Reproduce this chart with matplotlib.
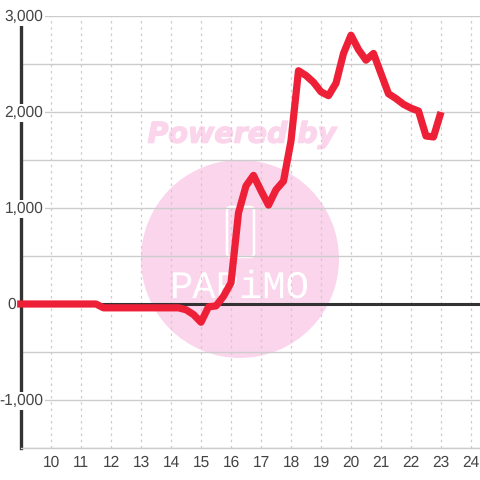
import matplotlib
matplotlib.use("Agg")
import matplotlib.pyplot as plt
import matplotlib.patheffects as pe
from matplotlib.patches import Circle, FancyBboxPatch

# ---------------------------------------
# Data
# ---------------------------------------
hours = [8.87, 9.5, 10, 10.5, 11, 11.5, 11.75, 12, 12.5, 13, 13.5, 14, 14.25, 14.5, 14.75, 15,
         15.25, 15.5, 15.75, 16, 16.25, 16.5, 16.75, 17, 17.25, 17.5, 17.75, 18, 18.25,
         18.5, 18.75, 19, 19.25, 19.5, 19.75, 20, 20.25, 20.5, 20.75, 21, 21.25, 21.5,
         21.75, 22, 22.25, 22.5, 22.75, 23]
values = [0, 0, 0, 0, 0, 0, -40, -40, -40, -40, -40, -40, -40, -60, -110, -190,
          -30, -20, 80, 220, 950, 1230, 1340, 1180, 1030, 1190, 1280, 1700, 2430,
          2380, 2310, 2210, 2170, 2300, 2610, 2800, 2650, 2540, 2610, 2400, 2190, 2140,
          2080, 2040, 2010, 1750, 1740, 2000]

x_ticks = list(range(10, 25))
y_ticks = [-1500, -1000, -500, 0, 500, 1000, 1500, 2000, 2500, 3000]
y_labels = ["3,000", "2,000", "1,000", "-1,000"]
y_label_values = [3000, 2000, 1000, -1000]

# ---------------------------------------
# Figure setup
# ---------------------------------------
plt.rcParams["font.family"] = "Liberation Sans"
plt.rcParams["text.hinting"] = "none"
fig = plt.figure(figsize=(4.8, 4.8), dpi=100, facecolor="white")
ax = fig.add_axes([21 / 480, 32 / 480, 459 / 480, 432 / 480])
ax.set_xlim(9, 24.3)
ax.set_ylim(-1500, 3000)
ax.patch.set_alpha(0)
ax.set_zorder(1)

# Watermark sits under the axes
fig.patches.append(Circle((240 / 480, 1 - 259 / 480), 99 / 480, transform=fig.transFigure,
                          facecolor="#FBD5EC", edgecolor="none", figure=fig, zorder=-3))
fig.patches.append(FancyBboxPatch((227 / 480, 1 - 257 / 480), 27 / 480, 50 / 480,
                                  boxstyle="round,pad=0,rounding_size=0.008",
                                  transform=fig.transFigure, facecolor="none",
                                  edgecolor="white", linewidth=1.8, figure=fig, zorder=-2))
fig.text(242 / 480, 1 - 135 / 480, "Powered by", family="DejaVu Sans", fontsize=20.5,
         fontweight="bold", fontstyle="italic", color="#FBD5EC", ha="center", va="center",
         zorder=-2, path_effects=[pe.withStroke(linewidth=1.0, foreground="#FBD5EC")])
fig.text(240 / 480, 1 - 288 / 480, "PAPiMO", family="Liberation Mono", fontsize=28,
         color="white", ha="center", va="center", zorder=-2)

# Grid
ax.set_xticks(x_ticks)
ax.set_yticks(y_ticks)
ax.set_yticklabels([])
ax.grid(axis="y", color="#CCCCCC", linewidth=1.0)
ax.grid(axis="x", color="#CCCCCC", linewidth=0.9, linestyle=(0, (2, 3)))
ax.set_axisbelow(True)
ax.tick_params(axis="both", length=0)
ax.tick_params(axis="x", labelsize=11.2, labelcolor="#444444", pad=5)
ax.tick_params(axis="y", pad=0)

for side in ["top", "right"]:
    ax.spines[side].set_visible(False)
ax.spines["bottom"].set_color("#CCCCCC")
ax.spines["bottom"].set_linewidth(1.0)
ax.spines["left"].set_color("#333333")
ax.spines["left"].set_linewidth(2.4)
ax.spines["left"].set_zorder(2.4)

ax.axhline(0, color="#333333", linewidth=2.2, zorder=2)

# Series
ax.plot(hours, values, color="#EE2037", linewidth=5.2, solid_capstyle="butt",
        solid_joinstyle="round", zorder=3, clip_on=False)

# Y labels straddle the axis line, with a white background
for val, lab in zip(y_label_values, y_labels):
    ax.annotate(lab, xy=(0, val), xycoords=ax.get_yaxis_transform(), xytext=(16, -0.6),
                textcoords="offset points", ha="right", va="center", fontsize=11.2,
                color="#444444", zorder=5, annotation_clip=False,
                bbox=dict(facecolor="white", edgecolor="none", pad=1))
ax.annotate("0", xy=(0, 0), xycoords=ax.get_yaxis_transform(), xytext=(-3.6, -0.6),
            textcoords="offset points", ha="right", va="center", fontsize=11.2,
            color="#444444", zorder=5, annotation_clip=False)

fig.savefig("out.png", dpi=100)
